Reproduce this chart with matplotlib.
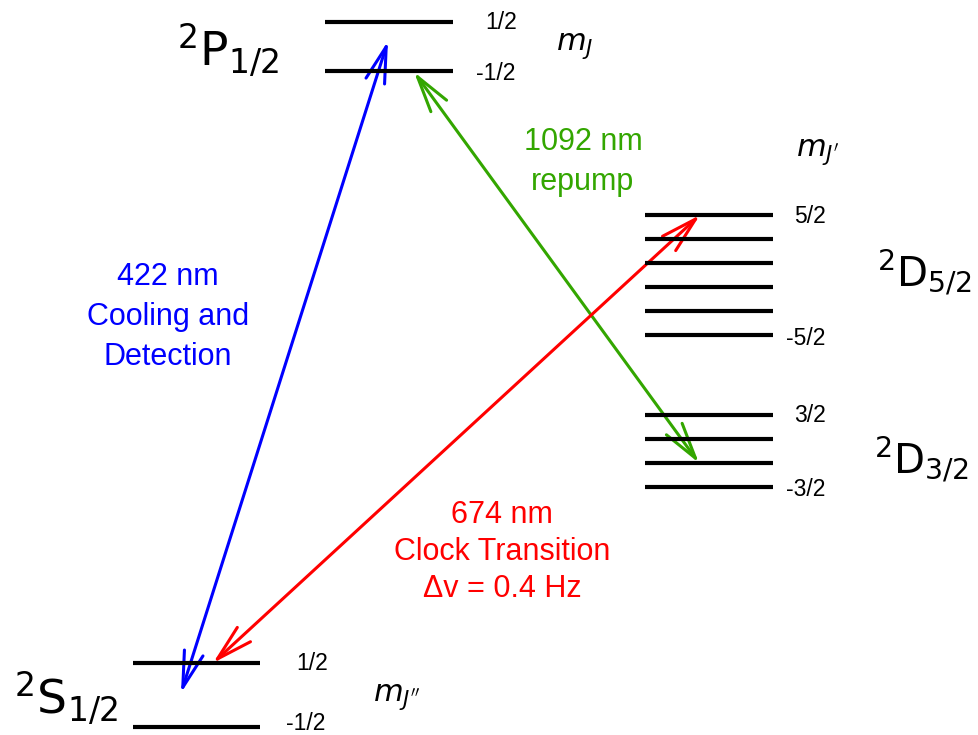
import matplotlib.pyplot as plt
from matplotlib.patches import FancyArrowPatch

plt.rcParams["mathtext.fontset"] = "dejavusans"

# energy levels: (x_start, x_end, [y of each sublevel]) in picture units (y grows downward)
P12_X = (325, 453)
P12_Y = [22, 71]
D52_X = (645, 773)
D52_Y = [215, 239, 263, 287, 311, 335]
D32_X = (645, 773)
D32_Y = [415, 439, 463, 487]
S12_X = (133, 260)
S12_Y = [663, 727]

# sublevel labels (text, x centre, y)
P12_MJ = [("1/2", 501, 22), ("-1/2", 496, 73)]
D52_MJ = [("5/2", 810, 216), ("-5/2", 806, 338)]
D32_MJ = [("3/2", 810, 415), ("-3/2", 806, 489)]
S12_MJ = [("1/2", 312, 664), ("-1/2", 306, 724)]

# transitions: (start, end, colour)
TRANSITIONS = [
    ((181, 693), (388, 41), "#0000ff"),
    ((414, 72), (699, 463), "#33a600"),
    ((213, 663), (700, 215), "#ff0000"),
]

fig = plt.figure(figsize=(9.79, 7.35), dpi=100)
ax = fig.add_axes([0, 0, 1, 1])
ax.set_xlim(0, 979)
ax.set_ylim(735, 0)
ax.axis("off")

for (x0, x1), ys in [(P12_X, P12_Y), (D52_X, D52_Y), (D32_X, D32_Y), (S12_X, S12_Y)]:
    for y in ys:
        ax.plot([x0, x1], [y, y], color="black", lw=3.0, solid_capstyle="butt")

for (a, b, c) in TRANSITIONS:
    arr = FancyArrowPatch(a, b, arrowstyle="<->,head_length=26,head_width=7",
                          mutation_scale=1, color=c, lw=2.2, shrinkA=0, shrinkB=0)
    ax.add_patch(arr)

for t, x, y in P12_MJ + D52_MJ + D32_MJ + S12_MJ:
    ax.text(x, y, t, fontsize=16.5, family="Liberation Sans", ha="center", va="center")

ax.text(228, 50, r"$^2\mathrm{P}_{1/2}$", fontsize=34, ha="center", va="center")
ax.text(924, 272, r"$^2\mathrm{D}_{5/2}$", fontsize=29, ha="center", va="center")
ax.text(921, 459, r"$^2\mathrm{D}_{3/2}$", fontsize=29, ha="center", va="center")
ax.text(66, 698, r"$^2\mathrm{S}_{1/2}$", fontsize=34, ha="center", va="center")

ax.text(575, 46, r"$m_J$", fontsize=22, ha="center", va="center")
ax.text(818, 152, r"$m_{J'}$", fontsize=22, ha="center", va="center")
ax.text(397, 697, r"$m_{J''}$", fontsize=22, ha="center", va="center")

lab = dict(fontsize=22, family="Liberation Sans", ha="center", va="center")
ax.text(168, 317, "422 nm\nCooling and\nDetection", color="#0000ff",
        linespacing=1.42, **lab)
ax.text(583, 162, "1092 nm\nrepump", color="#33a600", linespacing=1.42, **lab)
ax.text(502, 552, "674 nm\nClock Transition\nΔv = 0.4 Hz", color="#ff0000",
        linespacing=1.3, **lab)

fig.savefig("out.png", dpi=100)
